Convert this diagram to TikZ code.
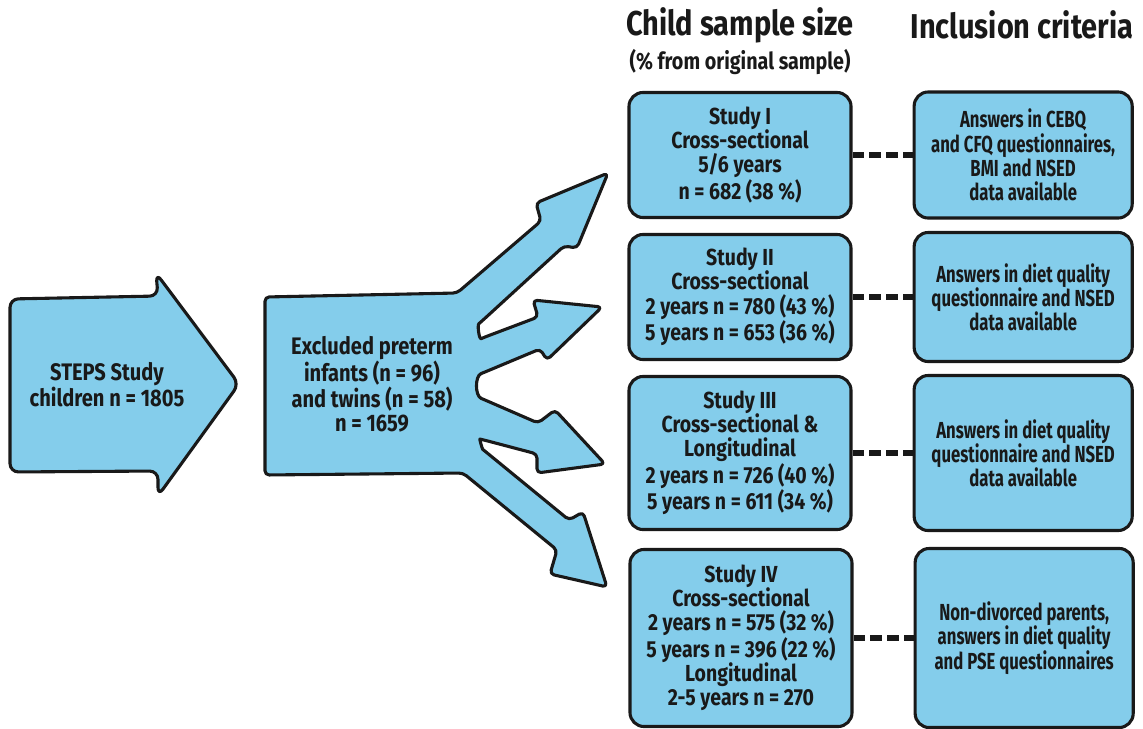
\documentclass[tikz,border=0pt]{standalone}
\usepackage{fontspec}
\setmainfont{Fira Sans}[FakeStretch=0.84]
\newfontfamily\narrowfont{Fira Sans}[FakeStretch=0.72]
\usetikzlibrary{positioning}
\definecolor{skyfill}{RGB}{132,205,235}
\definecolor{inkline}{RGB}{25,25,25}
\tikzset{
    flowshape/.style={draw=inkline, line width=2.2pt, fill=skyfill, rounded corners=3pt, line join=round},
    studybox/.style={rectangle, rounded corners=10pt, draw=inkline, line width=2.2pt, fill=skyfill, minimum width=5.55cm, align=center, text=inkline, font=\bfseries\fontsize{16.5}{17.2}\selectfont, inner sep=2pt},
    critbox/.style={studybox, minimum width=5.45cm, font=\narrowfont\bfseries\fontsize{16.5}{17.2}\selectfont},
    bodytext/.style={align=center, text=inkline, font=\bfseries\fontsize{17}{17.2}\selectfont},
    header/.style={text=inkline, font=\bfseries\fontsize{24.5}{28}\selectfont},
    subheader/.style={text=inkline, font=\bfseries\fontsize{16.7}{19}\selectfont},
    dashlink/.style={draw=inkline, line width=4.5pt, dash pattern=on 8pt off 4pt}
}

\begin{document}
\begin{tikzpicture}[x=0.025cm, y=-0.025cm]
        \useasboundingbox (0,0) rectangle (1143,729);
        % Arrows
        \draw [flowshape, rounded corners=6pt] (10,299) -- (158,296) -- (156,273) -- (239,384) -- (158,496) -- (158,471) -- (10,472) -- cycle;
        \draw [flowshape] (265,297) -- (457,293) -- (541,221) -- (536,203) -- (608,173) -- (577,248) -- (564,246) -- (482,321)
            to[out=221,in=203] (485,337) -- (538,317) -- (533,300) -- (602,307) -- (547,360) -- (540,349) -- (485,372)
            to[out=202,in=157] (485,400) -- (538,423) -- (555,410) -- (605,464) -- (537,473) -- (537,454) -- (484,440)
            to[out=167,in=141] (486,452) -- (569,520) -- (583,512) -- (607,587) -- (550,574) -- (557,550) -- (463,473) -- (265,475) -- cycle;

        % Nodes
        \node (steps) [bodytext] at (107,385) {STEPS Study\\children n = 1805};
        \node (excluded) [bodytext] at (372,384) {Excluded preterm\\infants (n = 96)\\and twins (n = 58)\\n = 1659};

        \node (sizehead) [header] at (740,25) {Child sample size};
        \node (sizesub) [subheader] at (740,62) {(\% from original sample)};
        \node (crithead) [header] at (1022,25) {Inclusion criteria};

        \node (study1) [studybox, minimum height=3.125cm] at (740,155) {Study I\\Cross-sectional\\5/6 years\\n = 682 (38 \%)};
        \node (study2) [studybox, minimum height=3.125cm] at (740,297) {Study II\\Cross-sectional\\2 years n = 780 (43 \%)\\5 years n = 653 (36 \%)};
        \node (study3) [studybox, minimum height=3.825cm] at (740,453) {Study III\\Cross-sectional \&\\Longitudinal\\2 years n = 726 (40 \%)\\5 years n = 611 (34 \%)};
        \node (study4) [studybox, minimum height=4.425cm] at (741,638) {Study IV\\Cross-sectional\\2 years n = 575 (32 \%)\\5 years n = 396 (22 \%)\\Longitudinal\\2-5 years n = 270};

        \node (crit1) [critbox, minimum height=3.15cm, right=1.5cm of study1] {Answers in CEBQ\\and CFQ questionnaires,\\BMI and NSED\\data available};
        \node (crit2) [critbox, minimum height=3.225cm, right=1.5cm of study2] {Answers in diet quality\\questionnaire and NSED\\data available};
        \node (crit3) [critbox, minimum height=3.875cm, right=1.5cm of study3] {Answers in diet quality\\questionnaire and NSED\\data available};
        \node (crit4) [critbox, minimum height=4.475cm, right=1.5cm of study4] {Non-divorced parents,\\answers in diet quality\\and PSE questionnaires};

        % Connections
        \draw [dashlink] (study1) -- (crit1);
        \draw [dashlink] (study2) -- (crit2);
        \draw [dashlink] (study3) -- (crit3);
        \draw [dashlink] (study4) -- (crit4);
    \end{tikzpicture}
\end{document}
